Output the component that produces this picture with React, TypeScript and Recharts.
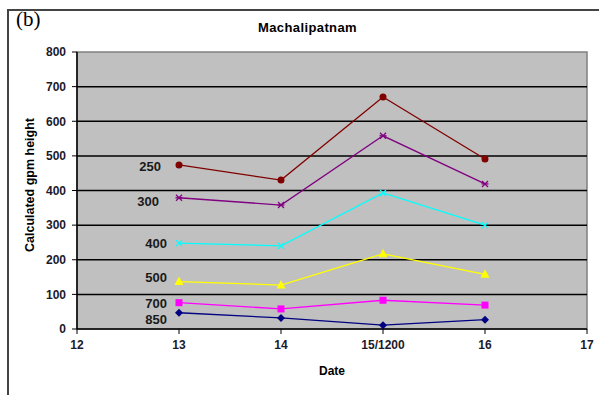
import React from 'react';
import { LineChart, Line, XAxis, YAxis, ReferenceLine, ReferenceArea } from 'recharts';

const dates = [13, 14, 15, 16];
const h250 = [474, 430, 670, 491];
const h300 = [379, 358, 558, 419];
const h400 = [248, 240, 393, 300];
const h500 = [137, 127, 217, 158];
const h700 = [76, 58, 83, 69];
const h850 = [47, 32, 11, 27];
const xTicks = [12, 13, 14, 15, 16, 17];
const yTicks = [0, 100, 200, 300, 400, 500, 600, 700, 800];
const gridLines = [100, 200, 300, 400, 500, 600, 700];

const data = dates.map((d, i) => ({
  d, h250: h250[i], h300: h300[i], h400: h400[i], h500: h500[i], h700: h700[i], h850: h850[i],
}));

const font = 'Arial, "Liberation Sans", sans-serif';

const circleDot = (p: any) => <circle key={p.index} cx={p.cx} cy={p.cy} r={3.5} fill="#800000" />;
const starDot = (p: any) => (
  <g key={p.index} stroke="#800080" strokeWidth={1.3}>
    <line x1={p.cx - 3} y1={p.cy - 3} x2={p.cx + 3} y2={p.cy + 3} />
    <line x1={p.cx - 3} y1={p.cy + 3} x2={p.cx + 3} y2={p.cy - 3} />
    <line x1={p.cx - 3.5} y1={p.cy} x2={p.cx + 3.5} y2={p.cy} />
  </g>
);
const xDot = (p: any) => (
  <g key={p.index} stroke="#00FFFF" strokeWidth={1.3}>
    <line x1={p.cx - 3} y1={p.cy - 3} x2={p.cx + 3} y2={p.cy + 3} />
    <line x1={p.cx - 3} y1={p.cy + 3} x2={p.cx + 3} y2={p.cy - 3} />
  </g>
);
const triDot = (p: any) => (
  <path key={p.index} d={`M${p.cx},${p.cy - 5} L${p.cx + 4.5},${p.cy + 3.5} L${p.cx - 4.5},${p.cy + 3.5} Z`} fill="#FFFF00" />
);
const squareDot = (p: any) => <rect key={p.index} x={p.cx - 3.5} y={p.cy - 3.5} width={7} height={7} fill="#FF00FF" />;
const diamondDot = (p: any) => (
  <path key={p.index} d={`M${p.cx},${p.cy - 4} L${p.cx + 4},${p.cy} L${p.cx},${p.cy + 4} L${p.cx - 4},${p.cy} Z`} fill="#000080" />
);

const levelLabel = (text: string, dx: number, dy: number) => (p: any) => {
  if (p.index !== 0) return null;
  return (
    <text key="lbl" x={p.x - dx} y={p.y + dy} textAnchor="end" dominantBaseline="central"
      fontFamily={font} fontWeight="bold" fontSize={13} fill="#1a1a1a">
      {text}
    </text>
  );
};

export default function App() {
  const tick = { fill: '#1a1a2a', fontSize: 12, fontWeight: 'bold' as const, fontFamily: font };
  return (
    <div style={{ position: 'absolute', left: 0, top: 0, width: 599, height: 395, overflow: 'hidden', background: '#fff' }}>
      <div style={{ position: 'absolute', left: 7, top: 9, width: 640, height: 420, borderTop: '2px solid #444', borderLeft: '2px solid #444' }} />
      <div style={{ position: 'absolute', left: 16, top: 7, fontFamily: '"Liberation Serif", "Times New Roman", serif', fontSize: 21 }}>(b)</div>
      <div style={{ position: 'absolute', left: 0, width: 615, top: 20, textAlign: 'center', fontFamily: font, fontSize: 13, fontWeight: 'bold', letterSpacing: 0.4 }}>
        Machalipatnam
      </div>
      <div style={{ position: 'absolute', left: 0, width: 664, top: 364, textAlign: 'center', fontFamily: font, fontSize: 12, fontWeight: 'bold' }}>
        Date
      </div>
      <div style={{ position: 'absolute', left: 30, top: 185, width: 0, height: 0 }}>
        <div style={{ position: 'absolute', transform: 'translate(-50%, -50%) rotate(-90deg)', whiteSpace: 'nowrap', fontFamily: font, fontSize: 12.5, fontWeight: 'bold' }}>
          Calculated gpm height
        </div>
      </div>
      <LineChart width={599} height={395} data={data} margin={{ top: 52, right: 12, left: 0, bottom: 0 }}
        style={{ position: 'absolute', left: 0, top: 0 }}>
        <ReferenceArea x1={12} x2={17} y1={0} y2={800} fill="#C0C0C0" fillOpacity={1} stroke="#808080" strokeWidth={1.5} ifOverflow="visible" />
        {gridLines.map((v) => (
          <ReferenceLine key={v} y={v} stroke="#000" strokeWidth={1.5} />
        ))}
        <XAxis dataKey="d" type="number" domain={[12, 17]} ticks={xTicks} height={66}
          tickFormatter={(v) => (v === 15 ? '15/1200' : String(v))}
          tick={tick} tickSize={5} tickMargin={6} axisLine={{ stroke: '#000', strokeWidth: 1.5 }} tickLine={{ stroke: '#000' }} />
        <YAxis type="number" domain={[0, 800]} ticks={yTicks} width={77}
          tick={tick} tickSize={5} tickMargin={6} axisLine={{ stroke: '#000', strokeWidth: 1.5 }} tickLine={{ stroke: '#000' }} />
        <Line dataKey="h250" stroke="#800000" strokeWidth={1.3} dot={circleDot} label={levelLabel('250', 18, 2)} isAnimationActive={false} />
        <Line dataKey="h300" stroke="#800080" strokeWidth={1.3} dot={starDot} label={levelLabel('300', 20, 4)} isAnimationActive={false} />
        <Line dataKey="h400" stroke="#00FFFF" strokeWidth={1.3} dot={xDot} label={levelLabel('400', 12, 0)} isAnimationActive={false} />
        <Line dataKey="h500" stroke="#FFFF00" strokeWidth={1.3} dot={triDot} label={levelLabel('500', 12, -4)} isAnimationActive={false} />
        <Line dataKey="h700" stroke="#FF00FF" strokeWidth={1.3} dot={squareDot} label={levelLabel('700', 12, 1)} isAnimationActive={false} />
        <Line dataKey="h850" stroke="#000080" strokeWidth={1.3} dot={diamondDot} label={levelLabel('850', 12, 7)} isAnimationActive={false} />
      </LineChart>
    </div>
  );
}
